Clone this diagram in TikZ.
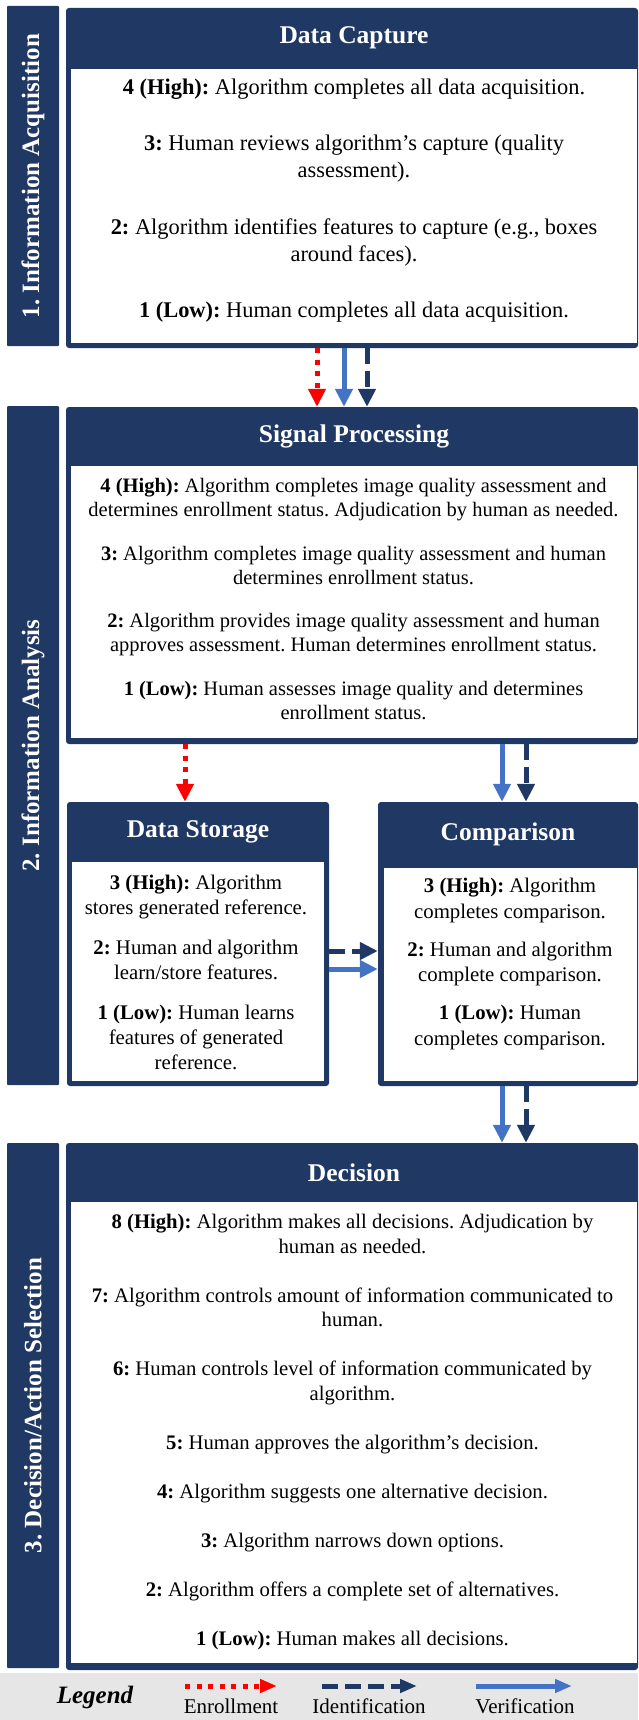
\documentclass[tikz,border=0pt]{standalone}
\usepackage{fontspec}
\setmainfont{Liberation Serif}
\usepackage{tikz}
\usetikzlibrary{positioning,arrows.meta}
\definecolor{navy}{HTML}{1F3864}
\definecolor{verblue}{HTML}{4472C4}
\definecolor{legendgray}{HTML}{E7E6E6}
\frenchspacing

\begin{document}
\begin{tikzpicture}[
    x=1pt, y=-1pt,
    side/.style = {rectangle, fill=navy, rounded corners=1pt, inner sep=0pt, minimum width=52pt},
    sidelabel/.style = {rotate=90, text=white, font=\fontsize{25}{30}\selectfont\bfseries},
    stage/.style = {rectangle, fill=navy, rounded corners=3pt, inner sep=0pt},
    panel/.style = {rectangle, fill=white, inner sep=0pt},
    head/.style = {text=white, font=\fontsize{25.5}{30}\selectfont\bfseries},
    levels/.style = {align=center, inner sep=0pt, font=\fontsize{20.7}{24.5}\selectfont},
    flow/.style = {line width=5pt, -{Triangle[length=18pt, width=17pt]}},
    enroll/.style = {flow, red, dash pattern=on 5pt off 6.5pt},
    ident/.style = {flow, navy, dash pattern=on 16pt off 7pt},
    verif/.style = {flow, verblue},
    key/.style = {font=\fontsize{21}{25}\selectfont},
]
    \useasboundingbox (0,0) rectangle (638,1720);

    % side bars
    \node[side, minimum height=340pt] (side1) at (33,176) {};
    \node[side, minimum height=679pt] (side2) at (33,745.5) {};
    \node[side, minimum height=525pt] (side3) at (33,1405.5) {};
    \node[sidelabel] (side1text) at (side1) {1. Information Acquisition};
    \node[sidelabel] (side2text) at (side2) {2. Information Analysis};
    \node[sidelabel] (side3text) at (side3) {3. Decision/Action Selection};

    % stages
    \node[stage, minimum width=572pt, minimum height=340pt] (dc) at (352,178) {};
    \node[stage, minimum width=572pt, minimum height=337pt] (sp) at (352,575.5) {};
    \node[stage, minimum width=262pt, minimum height=284pt] (ds) at (198,944) {};
    \node[stage, minimum width=260pt, minimum height=284pt] (cmp) at (508,944) {};
    \node[stage, minimum width=572pt, minimum height=527pt] (dec) at (352,1406.5) {};

    % panels
    \node[panel, minimum width=566pt, minimum height=274pt] (dcbody) at (354,206) {};
    \node[panel, minimum width=566pt, minimum height=272pt] (spbody) at (354,602) {};
    \node[panel, minimum width=252pt, minimum height=219pt] (dsbody) at (198,971.5) {};
    \node[panel, minimum width=253pt, minimum height=213pt] (cmpbody) at (510.5,974.5) {};
    \node[panel, minimum width=566pt, minimum height=461pt] (decbody) at (354,1432.5) {};

    % titles
    \node[head] (dctitle) at (354,38) {Data Capture};
    \node[head] (sptitle) at (354,436.5) {Signal Processing};
    \node[head] (dstitle) at (198,832) {Data Storage};
    \node[head] (cmptitle) at (508,834) {Comparison};
    \node[head] (dectitle) at (354,1172.5) {Decision};

    % levels
    \node[levels, font=\fontsize{22.4}{27}\selectfont] (dctext) at (354,200.5) {%
        \textbf{4 (High):} Algorithm completes all data acquisition.\\[29.5pt]
        \textbf{3:} Human reviews algorithm’s capture (quality\\ assessment).\\[29.5pt]
        \textbf{2:} Algorithm identifies features to capture (e.g., boxes\\ around faces).\\[29.5pt]
        \textbf{1 (Low):} Human completes all data acquisition.};
    \node[levels, font=\fontsize{20.5}{24}\selectfont] (sptext) at (353.5,599) {%
        \textbf{4 (High):} Algorithm completes image quality assessment and\\ determines enrollment status. Adjudication by human as needed.\\[19.7pt]
        \textbf{3:} Algorithm completes image quality assessment and human\\ determines enrollment status.\\[19.7pt]
        \textbf{2:} Algorithm provides image quality assessment and human\\ approves assessment. Human determines enrollment status.\\[19.7pt]
        \textbf{1 (Low):} Human assesses image quality and determines\\ enrollment status.};
    \node[levels, font=\fontsize{20.8}{25}\selectfont] (dstext) at (196,972) {%
        \textbf{3 (High):} Algorithm\\ stores generated reference.\\[15pt]
        \textbf{2:} Human and algorithm\\ learn/store features.\\[15pt]
        \textbf{1 (Low):} Human learns\\ features of generated\\ reference.};
    \node[levels, font=\fontsize{20.8}{25.5}\selectfont] (cmptext) at (510,964) {%
        \textbf{3 (High):} Algorithm\\ completes comparison.\\[12.5pt]
        \textbf{2:} Human and algorithm\\ complete comparison.\\[12.5pt]
        \textbf{1 (Low):} Human\\ completes comparison.};
    \node[levels] (dectext) at (352.5,1432) {%
        \textbf{8 (High):} Algorithm makes all decisions. Adjudication by\\ human as needed.\\[24.5pt]
        \textbf{7:} Algorithm controls amount of information communicated to\\ human.\\[24.5pt]
        \textbf{6:} Human controls level of information communicated by\\ algorithm.\\[24.5pt]
        \textbf{5:} Human approves the algorithm’s decision.\\[24.5pt]
        \textbf{4:} Algorithm suggests one alternative decision.\\[24.5pt]
        \textbf{3:} Algorithm narrows down options.\\[24.5pt]
        \textbf{2:} Algorithm offers a complete set of alternatives.\\[24.5pt]
        \textbf{1 (Low):} Human makes all decisions.};

    % flows
    \draw[enroll] ([xshift=-35pt]dc.south) -- ([xshift=-35pt]sp.north);
    \draw[verif] ([xshift=-8pt]dc.south) -- ([xshift=-8pt]sp.north);
    \draw[ident] ([xshift=15pt]dc.south) -- ([xshift=15pt]sp.north);
    \draw[enroll] ([xshift=-167pt]sp.south) -- ([xshift=-13pt]ds.north);
    \draw[verif] ([xshift=150pt]sp.south) -- ([xshift=-6pt]cmp.north);
    \draw[ident] ([xshift=174pt]sp.south) -- ([xshift=18pt]cmp.north);
    \draw[ident] ([yshift=-7pt]ds.east) -- ([yshift=-7pt]cmp.west);
    \draw[verif] ([yshift=-25pt]ds.east) -- ([yshift=-25pt]cmp.west);
    \draw[verif] ([xshift=-6pt]cmp.south) -- ([xshift=150pt]dec.north);
    \draw[ident] ([xshift=18pt]cmp.south) -- ([xshift=174pt]dec.north);

    % legend
    \node[fill=legendgray, inner sep=0pt, minimum width=638pt, minimum height=47pt] (legend) at (319,1696.5) {};
    \node[font=\fontsize{25}{30}\selectfont\bfseries\itshape] (legendtitle) at (95,1697) {Legend};
    \coordinate (enrollfrom) at (185,1686);
    \coordinate (enrollto) at (277,1686);
    \coordinate (identfrom) at (322,1686);
    \coordinate (identto) at (417,1686);
    \coordinate (veriffrom) at (476,1686);
    \coordinate (verifto) at (572,1686);
    \draw[enroll, -{Triangle[length=17pt, width=13pt]}] (enrollfrom) -- (enrollto);
    \draw[ident, -{Triangle[length=17pt, width=13pt]}] (identfrom) -- (identto);
    \draw[verif, -{Triangle[length=17pt, width=13pt]}] (veriffrom) -- (verifto);
    \node[key] (enrolltext) at (231,1706) {Enrollment};
    \node[key] (identtext) at (369,1706) {Identification};
    \node[key] (veriftext) at (525,1706) {Verification};

\end{tikzpicture}
\end{document}
